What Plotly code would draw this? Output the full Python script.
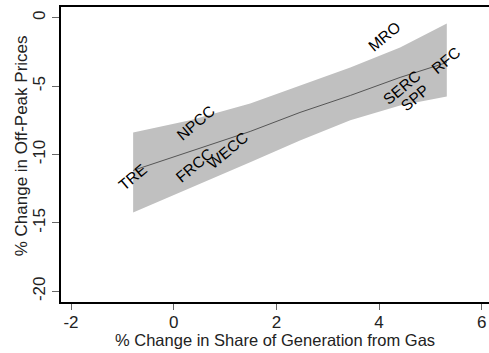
import plotly.graph_objects as go

# Region labels (positions)
regions = ["TRE", "NPCC", "FRCC", "WECC", "MRO", "SERC", "SPP", "RFC"]
gas_share_change = [-0.81, 0.44, 0.40, 1.05, 4.10, 4.44, 4.70, 5.30]
offpeak_price_change = [-11.65, -7.69, -10.79, -9.70, -1.35, -5.07, -5.80, -3.12]

# Fitted line and confidence band
fit_x = [-0.79, 0.32, 1.49, 2.46, 3.44, 4.41, 5.32]
fit_y = [-11.16, -9.77, -8.31, -6.92, -5.68, -4.36, -3.27]
ci_upper = [-8.38, -7.50, -6.26, -4.95, -3.63, -2.17, -0.42]
ci_lower = [-14.23, -12.47, -10.57, -8.97, -7.50, -6.41, -5.75]

x_ticks = [-2, 0, 2, 4, 6]
y_ticks = [0, -5, -10, -15, -20]

x_title = "% Change in Share of Generation from Gas"
y_title = "% Change in Off-Peak Prices"

FONT = "Liberation Sans, Arial, sans-serif"

fig = go.Figure()
fig.add_trace(go.Scatter(
    x=fit_x + fit_x[::-1],
    y=ci_upper + ci_lower[::-1],
    fill="toself", fillcolor="#c0c0c0",
    line=dict(width=0), mode="lines", hoverinfo="skip", showlegend=False))
fig.add_trace(go.Scatter(
    x=fit_x, y=fit_y, mode="lines",
    line=dict(color="#555555", width=1), showlegend=False))

for name, xv, yv in zip(regions, gas_share_change, offpeak_price_change):
    fig.add_annotation(x=xv, y=yv, text=name, showarrow=False,
                       textangle=-40, xanchor="center", yanchor="middle",
                       font=dict(family=FONT, size=15.5, color="#000000"))

# Axis titles placed as paper-referenced annotations
fig.add_annotation(xref="paper", yref="paper", x=0.5, y=-0.129,
                   text=x_title, showarrow=False, xanchor="center", yanchor="middle",
                   font=dict(family=FONT, size=16.5, color="#222222"))
fig.add_annotation(xref="paper", yref="paper", x=-0.092, y=0.53,
                   text=y_title, showarrow=False, textangle=-90,
                   xanchor="center", yanchor="middle",
                   font=dict(family=FONT, size=17, color="#222222"))

fig.update_layout(
    width=489, height=353,
    margin=dict(l=61, r=0, t=7, b=51),
    paper_bgcolor="white", plot_bgcolor="white",
    font=dict(family=FONT, color="#222222"),
    showlegend=False,
)
fig.update_xaxes(
    range=[-2.195, 6.142], tickvals=x_ticks, ticktext=[str(v) for v in x_ticks],
    showgrid=False, zeroline=False,
    showline=True, linecolor="black", linewidth=2, mirror=True,
    ticks="outside", ticklen=6, tickcolor="#666666", tickwidth=1,
    ticklabelstandoff=-2,
    tickfont=dict(size=17, color="#222222"),
)
fig.update_yaxes(
    range=[-20.78, 0.789], tickvals=y_ticks, ticktext=[str(v) for v in y_ticks],
    showgrid=False, zeroline=False,
    showline=True, linecolor="black", linewidth=2, mirror=False,
    ticks="outside", ticklen=7, tickcolor="#666666", tickwidth=1,
    tickangle=-90,
    tickfont=dict(size=17, color="#222222"),
)

fig.write_html("out.html")
